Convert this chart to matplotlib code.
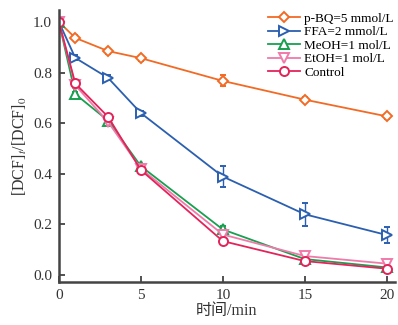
import matplotlib.pyplot as plt

plt.rcParams['font.family'] = ['Liberation Serif', 'Noto Sans CJK SC']
plt.rcParams['mathtext.fontset'] = 'stix'

time = [0, 1, 3, 5, 10, 15, 20]

pbq = [1.0, 0.937, 0.885, 0.857, 0.767, 0.693, 0.627]
pbq_err = [0.01, 0.01, 0.01, 0.01, 0.022, 0.01, 0.01]
ffa = [1.0, 0.858, 0.779, 0.64, 0.389, 0.24, 0.158]
ffa_err = [0.01, 0.01, 0.01, 0.01, 0.04, 0.045, 0.03]
meoh = [1.0, 0.715, 0.61, 0.43, 0.18, 0.063, 0.03]
meoh_err = [0.01, 0.01, 0.01, 0.01, 0.012, 0.01, 0.01]
etoh = [1.0, 0.75, 0.605, 0.42, 0.16, 0.075, 0.045]
etoh_err = [0.01, 0.01, 0.01, 0.01, 0.012, 0.012, 0.012]
control = [1.0, 0.757, 0.625, 0.415, 0.134, 0.055, 0.025]
control_err = [0.01, 0.01, 0.01, 0.01, 0.01, 0.01, 0.01]

series = [
    ("p-BQ=5 mmol/L", pbq, pbq_err, "#f26a24", "D", 5.5),
    ("FFA=2 mmol/L", ffa, ffa_err, "#2b5fb0", ">", 7),
    ("MeOH=1 mol/L", meoh, meoh_err, "#17a050", "^", 7),
    ("EtOH=1 mol/L", etoh, etoh_err, "#f07aaa", "v", 7),
    ("Control", control, control_err, "#e2245a", "o", 6.5),
]

fig = plt.figure(figsize=(3.98, 3.25), dpi=100)
ax = fig.add_axes([0.148, 0.132, 0.844, 0.837])

handles = []
for label, y, err, color, marker, ms in series:
    cont = ax.errorbar(time, y, yerr=err, color=color, marker=marker, ms=ms,
                       mfc="white", mec=color, mew=1.4, lw=1.3, capsize=2.5,
                       elinewidth=1.0, label=label)
    # legend shows only the line + marker, no error bar
    handles.append(cont[0])

ax.set_xlim(0, 20.49)
ax.set_ylim(-0.028, 1.047)
ax.set_xticks([0, 5, 10, 15, 20])
ax.set_yticks([0.0, 0.2, 0.4, 0.6, 0.8, 1.0])
ax.set_yticklabels(["0.0", "0.2", "0.4", "0.6", "0.8", "1.0"])
ax.tick_params(direction="in", length=4, width=1.2, labelsize=11,
               colors="#333333", pad=5)

for side in ["top", "right"]:
    ax.spines[side].set_visible(False)
for side in ["left", "bottom"]:
    ax.spines[side].set_linewidth(1.8)
    ax.spines[side].set_color("#444444")

ax.set_xlabel("时间/min", fontsize=11.5, color="#333333", labelpad=1)
ax.set_ylabel(r"[DCF]$_{\it t}$/[DCF]$_0$", fontsize=11.5, color="#333333", labelpad=3)

ax.legend(handles=handles, labels=[s[0] for s in series], loc="upper right",
          bbox_to_anchor=(1.02, 1.02), frameon=False,
          fontsize=9.5, handlelength=2.4, handletextpad=0.3, labelspacing=0.1,
          borderaxespad=0.2)

fig.savefig("out.png", dpi=100)
